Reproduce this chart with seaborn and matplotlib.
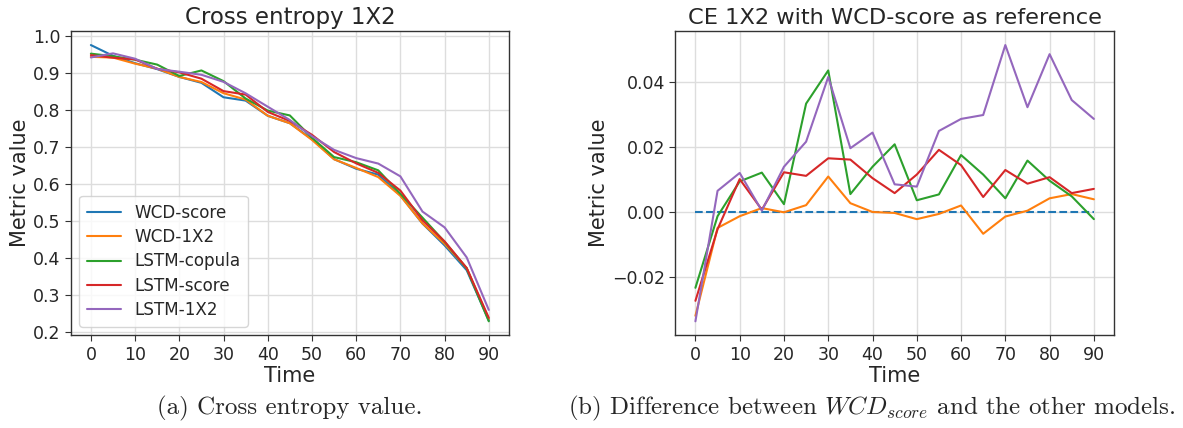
import numpy as np
import pandas as pd
import matplotlib
matplotlib.use("Agg")
import matplotlib.pyplot as plt
import seaborn as sns

times = list(range(0, 95, 5))
models = ["WCD-score", "WCD-1X2", "LSTM-copula", "LSTM-score", "LSTM-1X2"]

# Cross entropy of the reference model (WCD-score)
wcd_score = [0.976, 0.947, 0.927, 0.911, 0.890, 0.874, 0.835, 0.826, 0.785, 0.765,
             0.722, 0.668, 0.642, 0.626, 0.570, 0.494, 0.435, 0.368, 0.232]

# Differences (model - WCD-score)
diff_wcd_1x2 = [-0.0318, -0.0048, -0.0012, 0.0013, 0.0000, 0.0022, 0.0110, 0.0028, 0.0001, -0.0002,
                -0.0021, -0.0005, 0.0021, -0.0066, -0.0013, 0.0005, 0.0043, 0.0056, 0.0040]
diff_lstm_copula = [-0.0232, -0.0012, 0.0095, 0.0122, 0.0025, 0.0334, 0.0436, 0.0056, 0.0140, 0.0209,
                    0.0037, 0.0055, 0.0176, 0.0116, 0.0043, 0.0159, 0.0097, 0.0049, -0.0021]
diff_lstm_score = [-0.0272, -0.0052, 0.0102, 0.0008, 0.0123, 0.0112, 0.0166, 0.0162, 0.0105, 0.0059,
                   0.0116, 0.0192, 0.0145, 0.0047, 0.0130, 0.0088, 0.0108, 0.0059, 0.0072]
diff_lstm_1x2 = [-0.0335, 0.0066, 0.0121, 0.0005, 0.0140, 0.0217, 0.0416, 0.0197, 0.0245, 0.0086,
                 0.0079, 0.0250, 0.0287, 0.0299, 0.0514, 0.0323, 0.0486, 0.0345, 0.0287]
diff_wcd_score = [0.0] * len(times)

diffs = {
    "WCD-score": diff_wcd_score,
    "WCD-1X2": diff_wcd_1x2,
    "LSTM-copula": diff_lstm_copula,
    "LSTM-score": diff_lstm_score,
    "LSTM-1X2": diff_lstm_1x2,
}

rows_ce, rows_diff = [], []
for m in models:
    for i, t in enumerate(times):
        rows_ce.append({"Time": t, "model": m, "value": wcd_score[i] + diffs[m][i]})
        rows_diff.append({"Time": t, "model": m, "value": diffs[m][i]})
df_ce = pd.DataFrame(rows_ce)
df_diff = pd.DataFrame(rows_diff)

sns.set_style("ticks")
plt.rcParams["font.family"] = ["DejaVu Sans"]
plt.rcParams["mathtext.fontset"] = "cm"

palette = dict(zip(models, sns.color_palette("tab10", 5)))

fig = plt.figure(figsize=(11.83, 4.28), dpi=100)
ax1 = fig.add_axes([0.060, 0.217, 0.370, 0.710])
ax2 = fig.add_axes([0.571, 0.217, 0.3705, 0.710])

sns.lineplot(data=df_ce, x="Time", y="value", hue="model", hue_order=models,
             palette=palette, linewidth=1.5, ax=ax1)
dashes = {m: "" for m in models}
dashes["WCD-score"] = (3.7, 1.6)
sns.lineplot(data=df_diff, x="Time", y="value", hue="model", hue_order=models,
             style="model", style_order=models, dashes=dashes,
             palette=palette, linewidth=1.5, ax=ax2, legend=False)

for ax, title, tsize in [(ax1, "Cross entropy 1X2", 16.5),
                         (ax2, "CE 1X2 with WCD-score as reference", 16.2)]:
    ax.set_title(title, fontsize=tsize, pad=5)
    ax.set_xlabel("Time", fontsize=15, labelpad=2)
    ax.set_ylabel("Metric value", fontsize=15, labelpad=2)
    ax.tick_params(labelsize=12.5, color="#333333", length=4)
    ax.grid(True, color="#dddddd", linewidth=1.0)
    ax.set_axisbelow(True)
    for s in ax.spines.values():
        s.set_color("#333333")
        s.set_linewidth(1.0)
    ax.set_xticks(range(0, 100, 10))
    ax.margins(x=0.05, y=0.05)

ax1.set_yticks(np.arange(0.2, 1.01, 0.1))
ax1.set_yticklabels([f"{v:.1f}" for v in np.arange(0.2, 1.01, 0.1)])
ax2.set_yticks([-0.02, 0.0, 0.02, 0.04])
ax2.set_yticklabels(["\u22120.02", "0.00", "0.02", "0.04"])

leg = ax1.legend(loc="lower left", fontsize=12.1, frameon=True, handlelength=2.0,
                 borderpad=0.45, labelspacing=0.38)
leg.get_frame().set_edgecolor("#cccccc")

fig.text(0.245, 0.045, "(a) Cross entropy value.", ha="center", va="center",
         fontsize=18, fontname="cmr10")
fig.text(0.737, 0.045, r"(b) Difference between $WCD_{score}$ and the other models.",
         ha="center", va="center", fontsize=18, fontname="cmr10")

fig.savefig("out.png", dpi=100)
